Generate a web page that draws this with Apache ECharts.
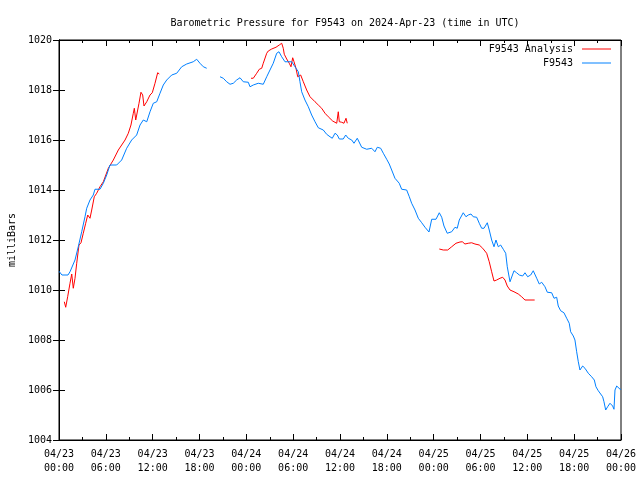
<!DOCTYPE html>
<html>
<head>
<meta charset="utf-8">
<script src="https://cdn.jsdelivr.net/npm/echarts@6/dist/echarts.min.js"></script>
<style>html,body{margin:0;padding:0;background:#fff}#c{width:640px;height:480px}</style>
</head>
<body>
<div id="c"></div>
<script>
// hours since 2024-04-23 00:00 UTC
var titleText = 'Barometric Pressure for F9543 on 2024-Apr-23 (time in UTC)';
var yTitle = 'milliBars';
var seriesNames = ['F9543 Analysis', 'F9543'];

var obsHours = [0,0.38,1.15,1.41,2.05,2.47,2.91,3.33,3.55,3.97,4.39,4.61,5.25,5.68,6.11,6.53,7.39,8.03,8.67,9.31,9.95,10.38,10.80,11.24,11.66,12.08,12.52,12.94,13.36,13.80,14.44,15.08,15.72,16.36,17.20,17.64,18.06,18.49,18.92,
  19.8,
  20.63,21.05,21.48,21.91,22.33,22.76,23.19,23.61,24.25,24.47,24.89,25.53,26.17,26.61,27.03,27.45,27.89,28.18,28.53,28.95,29.81,30.23,30.66,30.87,31.09,31.51,31.94,32.37,32.80,33.22,33.86,34.29,34.72,35.01,35.36,35.65,35.91,36.42,36.73,37.06,37.50,37.79,38.21,38.78,39.42,40.06,40.48,40.78,41.21,41.55,41.98,42.31,42.62,43.04,43.59,43.90,44.54,44.88,45.18,45.61,46.03,46.47,46.89,47.40,47.75,48.30,48.72,49.03,49.32,49.74,50.31,50.73,51.02,51.28,51.79,52.14,52.43,52.78,53.07,53.51,53.84,54.15,54.45,54.87,55.12,55.43,55.73,55.98,56.28,56.58,56.92,57.23,57.43,57.78,57.99,58.29,58.63,58.97,59.40,59.70,60.04,60.43,60.76,61.20,61.53,61.84,62.26,62.56,63.12,63.42,63.76,63.96,64.27,64.69,65.04,65.37,65.55,65.89,66.10,66.32,66.53,66.74,67.09,67.38,67.81,68.24,68.58,68.79,69.09,69.31,69.65,69.82,70.04,70.29,70.59,70.93,71.10,71.23,71.45,71.66,71.88,72];
var obsValues = [1010.75,1010.6,1010.6,1010.73,1011.2,1011.73,1012.33,1012.93,1013.27,1013.6,1013.8,1014.03,1014.03,1014.27,1014.6,1015.0,1015.0,1015.2,1015.67,1016.0,1016.2,1016.6,1016.8,1016.73,1017.13,1017.47,1017.53,1017.87,1018.2,1018.4,1018.6,1018.67,1018.93,1019.04,1019.13,1019.23,1019.07,1018.93,1018.87,
  null,
  1018.53,1018.47,1018.33,1018.23,1018.27,1018.4,1018.49,1018.33,1018.31,1018.13,1018.2,1018.27,1018.23,1018.53,1018.8,1019.07,1019.47,1019.53,1019.33,1019.13,1019.13,1018.93,1018.73,1018.33,1017.93,1017.6,1017.33,1017.0,1016.73,1016.49,1016.4,1016.23,1016.13,1016.07,1016.27,1016.2,1016.04,1016.04,1016.2,1016.07,1016.0,1015.87,1016.07,1015.71,1015.63,1015.67,1015.53,1015.71,1015.67,1015.47,1015.23,1015.04,1014.8,1014.47,1014.27,1014.03,1014.0,1013.73,1013.47,1013.2,1012.87,1012.69,1012.51,1012.32,1012.83,1012.83,1013.09,1012.91,1012.56,1012.27,1012.33,1012.51,1012.47,1012.8,1013.09,1012.93,1013.0,1013.04,1012.93,1012.91,1012.67,1012.47,1012.47,1012.69,1012.4,1012.0,1011.73,1012.0,1011.73,1011.8,1011.63,1011.47,1010.93,1010.33,1010.4,1010.77,1010.69,1010.6,1010.56,1010.69,1010.53,1010.6,1010.77,1010.47,1010.24,1010.31,1010.13,1009.91,1009.89,1009.67,1009.71,1009.36,1009.17,1009.09,1008.87,1008.67,1008.33,1008.16,1008.0,1007.53,1007.13,1006.8,1006.96,1006.87,1006.67,1006.53,1006.4,1006.13,1005.97,1006.0,1005.73,1005.53,1005.2,1005.33,1005.47,1005.36,1005.23,1006.0,1006.16,1006.2,1006.03,1006.03];

var anaHours = [0.68,0.86,1.11,1.41,1.63,1.83,2.05,2.27,2.56,2.82,3.11,3.42,3.68,3.97,4.19,4.52,4.83,5.25,5.68,6.32,6.96,7.60,7.81,8.46,8.88,9.22,9.52,9.65,9.83,10.03,10.25,10.50,10.72,10.89,11.24,11.66,11.95,12.30,12.64,12.85,
  18.0,
  24.60,24.89,25.33,25.66,25.97,26.17,26.61,26.81,27.25,27.80,28.22,28.53,28.73,28.86,29.17,29.50,29.72,29.94,30.11,30.36,30.58,30.75,30.96,31.30,31.73,32.16,32.80,33.22,33.65,34.08,34.50,35.06,35.58,35.78,35.91,36.22,36.51,36.77,36.93,
  42.0,
  48.72,49.23,49.80,50.31,50.86,51.37,51.67,52.01,52.43,52.87,53.29,53.84,54.28,54.79,55.12,55.43,55.73,56.07,56.50,56.84,57.14,57.43,57.78,58.29,58.84,59.27,59.70,60.94];
var anaValues = [1009.53,1009.31,1009.73,1010.27,1010.64,1010.07,1010.47,1011.07,1011.8,1011.89,1012.27,1012.67,1013.0,1012.87,1013.2,1013.73,1013.87,1014.13,1014.33,1014.87,1015.2,1015.6,1015.67,1016.0,1016.27,1016.6,1017.07,1017.27,1016.8,1016.73,1017.47,1017.91,1017.8,1017.36,1017.53,1017.8,1017.89,1018.27,1018.69,1018.64,
  null,
  1018.47,1018.47,1018.67,1018.83,1018.87,1019.07,1019.47,1019.56,1019.64,1019.71,1019.8,1019.87,1019.67,1019.43,1019.24,1019.07,1018.93,1019.29,1019.13,1018.87,1018.53,1018.47,1018.6,1018.33,1018.0,1017.73,1017.53,1017.4,1017.27,1017.07,1016.93,1016.76,1016.67,1017.13,1016.73,1016.71,1016.67,1016.87,1016.67,
  null,
  1011.64,1011.6,1011.6,1011.73,1011.87,1011.92,1011.93,1011.84,1011.87,1011.89,1011.84,1011.8,1011.67,1011.47,1011.13,1010.73,1010.36,1010.4,1010.47,1010.51,1010.4,1010.16,1010.0,1009.93,1009.84,1009.73,1009.6,1009.6];

var xMin = 0, xMax = 72, xStep = 6;
var yMin = 1004, yMax = 1020, yStep = 2;
var startDay = 23, monthStr = '04';

function pairs(h, v) {
  return h.map(function (x, i) { return [x, v[i] === null ? '-' : v[i]]; });
}
function fmtTime(val) {
  var d = startDay + Math.floor(val / 24);
  var hh = Math.round(val % 24);
  return monthStr + '/' + d + '\n' + (hh < 10 ? '0' : '') + hh + ':00';
}

var FONT = 'DejaVu Sans Mono';
var chart = echarts.init(document.getElementById('c'), null, {renderer: 'canvas'});
var tickStyle = {color: '#000', width: 1};
chart.setOption({
  animation: false,
  backgroundColor: '#fff',
  title: {
    text: titleText, left: 340, top: 13, textAlign: 'center',
    textStyle: {fontFamily: FONT, fontSize: 10, fontWeight: 'normal', color: '#000'}
  },
  legend: {
    orient: 'vertical', right: 24, top: 39, align: 'right',
    itemWidth: 29, itemHeight: 1, itemGap: 4, icon: 'rect',
    textStyle: {fontFamily: FONT, fontSize: 10, color: '#000', padding: [0, 4, 0, 0]},
    data: seriesNames
  },
  grid: {left: 59, right: 19, top: 40, bottom: 40, show: true, borderColor: '#000', borderWidth: 1,
         containLabel: false, outerBoundsMode: 'none'},
  xAxis: [{
    type: 'value', min: xMin, max: xMax, interval: xStep,
    axisLine: {show: true, lineStyle: tickStyle},
    axisTick: {show: true, inside: true, length: 6, lineStyle: tickStyle},
    minorTick: {show: true, splitNumber: 2, length: 3, lineStyle: tickStyle},
    splitLine: {show: false},
    axisLabel: {formatter: fmtTime, fontFamily: FONT, fontSize: 10, color: '#000', lineHeight: 14, margin: 7}
  }, {
    type: 'value', min: xMin, max: xMax, interval: xStep, position: 'top',
    axisLine: {show: true, lineStyle: tickStyle},
    axisTick: {show: true, inside: true, length: 6, lineStyle: tickStyle},
    minorTick: {show: true, splitNumber: 2, length: 3, lineStyle: tickStyle},
    splitLine: {show: false}, axisLabel: {show: false}
  }],
  yAxis: [{
    type: 'value', min: yMin, max: yMax, interval: yStep,
    name: yTitle, nameLocation: 'middle', nameGap: 42, nameRotate: 90,
    nameTextStyle: {fontFamily: FONT, fontSize: 10, color: '#000'},
    axisLine: {show: true, lineStyle: tickStyle},
    axisTick: {show: true, inside: true, length: 6, lineStyle: tickStyle},
    splitLine: {show: false},
    axisLabel: {formatter: function (v) { return String(v); }, fontFamily: FONT, fontSize: 10, color: '#000', margin: 7}
  }, {
    type: 'value', min: yMin, max: yMax, interval: yStep, position: 'right',
    axisLine: {show: true, lineStyle: tickStyle},
    axisTick: {show: true, inside: true, length: 6, lineStyle: tickStyle},
    splitLine: {show: false}, axisLabel: {show: false}
  }],
  series: [{
    name: seriesNames[0], type: 'line', data: pairs(anaHours, anaValues),
    showSymbol: false, symbol: 'none', connectNulls: false,
    lineStyle: {color: '#ff0000', width: 1}, itemStyle: {color: '#ff0000'}
  }, {
    name: seriesNames[1], type: 'line', data: pairs(obsHours, obsValues),
    showSymbol: false, symbol: 'none', connectNulls: false,
    lineStyle: {color: '#0080ff', width: 1}, itemStyle: {color: '#0080ff'}
  }]
});
</script>
</body>
</html>
